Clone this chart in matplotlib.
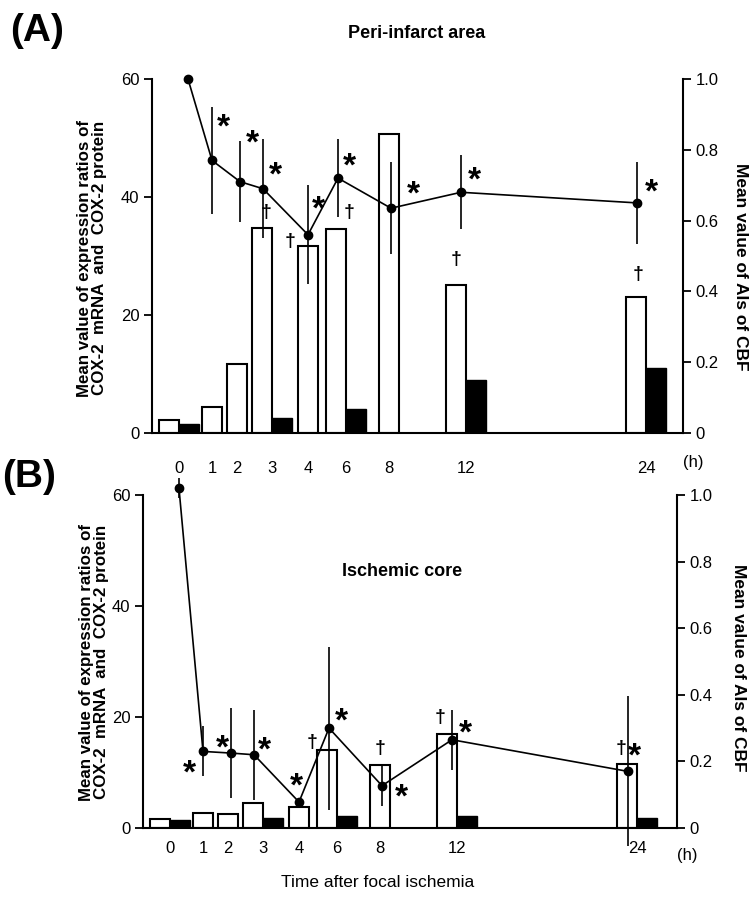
import numpy as np
import matplotlib
matplotlib.use("Agg")
import matplotlib.pyplot as plt

plt.rcParams['font.family'] = ['Liberation Sans', 'DejaVu Sans']

# ---------------- data ----------------
hours = [0, 1, 2, 3, 4, 6, 8, 12, 24]
tick_labels = ['0', '1', '2', '3', '4', '6', '8', '12', '24']
protein_hours = [0, 3, 6, 12, 24]

# Panel A: peri-infarct area
a_mrna = [2.2, 4.4, 11.7, 34.7, 31.7, 34.6, 50.7, 25.0, 23.0]
a_protein = [1.5, 2.5, 4.1, 9.0, 11.0]
a_cbf = [1.0, 0.77, 0.71, 0.69, 0.56, 0.72, 0.635, 0.68, 0.65]
a_cbf_err = [0.0, 0.15, 0.115, 0.14, 0.14, 0.11, 0.13, 0.105, 0.115]
a_cbf_sig = [1, 2, 3, 4, 6, 8, 12, 24]
a_mrna_sig = [3, 4, 6, 12, 24]

# Panel B: ischemic core
b_mrna = [1.6, 2.7, 2.5, 4.5, 3.8, 14.0, 11.3, 17.0, 11.5]
b_protein = [1.4, 1.8, 2.2, 2.2, 1.8]
b_cbf = [1.02, 0.23, 0.225, 0.22, 0.078, 0.30, 0.127, 0.265, 0.17]
b_cbf_err = [0.03, 0.075, 0.135, 0.135, 0.0, 0.245, 0.06, 0.09, 0.225]
b_cbf_sig = [1, 2, 3, 4, 6, 8, 12, 24]
b_mrna_sig = [6, 8, 12, 24]

# ---------------- layout ----------------
W, H = 752, 897
BAR_POS = {0: 27, 1: 60, 2: 85, 3: 120, 4: 156, 6: 194, 8: 237, 12: 314, 24: 494}
LINE_POS = {0: 36, 1: 60, 2: 88, 3: 111, 4: 156, 6: 186, 8: 239, 12: 309, 24: 485}
BW = 20

# asterisk offsets (px) relative to line point
AST_A = {1: (11, 40), 2: (12, 45), 3: (12, 20), 4: (10, 32), 6: (11, 19),
         8: (22, 21), 12: (13, 19), 24: (14, 17)}
AST_B = {1: (-14, -15), 2: (-9, 12), 3: (10, 11), 4: (-3, 22), 6: (12, 14),
         8: (19, -5), 12: (13, 13), 24: (6, 22)}
# dagger offsets (px) relative to white-bar top centre
DAG_A = {3: (4, 16), 4: (-18, 4), 6: (13, 16), 12: (0, 26), 24: (2, 23)}
DAG_B = {6: (-15, 8), 8: (0, 17), 12: (-7, 16), 24: (-6, 16)}

fig = plt.figure(figsize=(W / 100, H / 100), dpi=100)


def px_axes(l, t, r, b):
    return fig.add_axes([l / W, 1 - b / H, (r - l) / W, (b - t) / H])


def ftext(x, y, s, **kw):
    fig.text(x / W, 1 - y / H, s, **kw)


def panel(box, mrna, prot, cbf, cbf_err, cbf_sig, mrna_sig, ast_off, dag_off, xpad):
    l, t, r, b = box
    ax = px_axes(l, t, r, b)
    ax.set_xlim(0, r - l)
    ax.set_ylim(0, 60)
    white_x = [BAR_POS[h] - BW / 2 if h in protein_hours else BAR_POS[h] for h in hours]
    black_x = [BAR_POS[h] + BW / 2 for h in protein_hours]
    ax.bar(white_x, mrna, width=BW, facecolor='white', edgecolor='black',
           linewidth=1.5, zorder=2)
    ax.bar(black_x, prot, width=BW, facecolor='black', edgecolor='black',
           linewidth=1.0, zorder=2)
    ax.set_yticks([0, 20, 40, 60])
    ax.set_xticks([BAR_POS[h] for h in hours], tick_labels)
    ax.tick_params(axis='x', length=0, pad=xpad, labelsize=12)
    ax.tick_params(axis='y', direction='out', length=6, width=1.3, labelsize=12, pad=3)
    for s in ['top', 'right']:
        ax.spines[s].set_visible(False)
    ax.spines['left'].set_linewidth(1.5)
    ax.spines['bottom'].set_linewidth(1.5)

    ax2 = ax.twinx()
    ax2.set_ylim(0, 1.0)
    lx = [LINE_POS[h] for h in hours]
    cont = ax2.errorbar(lx, cbf, yerr=cbf_err, fmt='-o', color='black', ms=6,
                        lw=1.2, elinewidth=1.2, capsize=0, zorder=3)
    for art in cont.get_children():
        art.set_clip_on(False)
    ax2.set_yticks([0, 0.2, 0.4, 0.6, 0.8, 1.0], ['0', '0.2', '0.4', '0.6', '0.8', '1.0'])
    ax2.tick_params(axis='y', direction='out', length=6, width=1.3, labelsize=12, pad=3)
    for s in ['top', 'left', 'bottom']:
        ax2.spines[s].set_visible(False)
    ax2.spines['right'].set_linewidth(1.5)

    # significance marks
    for h, m in zip(hours, cbf):
        if h in cbf_sig:
            dx, dy = ast_off[h]
            ax2.annotate('*', xy=(LINE_POS[h], m), xytext=(dx, dy - 4),
                         textcoords='offset pixels', ha='center', va='center_baseline',
                         fontsize=24, fontweight='bold', annotation_clip=False)
    for h, v, wx in zip(hours, mrna, white_x):
        if h in mrna_sig:
            dx, dy = dag_off[h]
            ax.annotate('\u2020', xy=(wx, v), xytext=(dx, dy),
                        textcoords='offset pixels', ha='center', va='center',
                        fontsize=14, fontweight='bold', annotation_clip=False)
    return ax, ax2


panel((152, 79, 683, 433), a_mrna, a_protein, a_cbf, a_cbf_err, a_cbf_sig,
      a_mrna_sig, AST_A, DAG_A, 20)
panel((143, 495, 677, 828), b_mrna, b_protein, b_cbf, b_cbf_err, b_cbf_sig,
      b_mrna_sig, AST_B, DAG_B, 9)

# titles and labels
ftext(37, 31, '(A)', fontsize=28, fontweight='bold', ha='center', va='center')
ftext(29, 477, '(B)', fontsize=28, fontweight='bold', ha='center', va='center')
ftext(417, 33, 'Peri-infarct area', fontsize=13, fontweight='bold', ha='center', va='center')
ftext(402, 571, 'Ischemic core', fontsize=13, fontweight='bold', ha='center', va='center')

ylab = 'Mean value of expression ratios of\nCOX-2  mRNA  and  COX-2 protein'
ftext(92, 258, ylab, fontsize=12.2, fontweight='bold', rotation=90,
      ha='center', va='center', linespacing=0.95)
ftext(94, 662, ylab, fontsize=12.2, fontweight='bold', rotation=90,
      ha='center', va='center', linespacing=0.95)
ftext(740, 267, 'Mean value of AIs of CBF', fontsize=12.5, fontweight='bold',
      rotation=270, ha='center', va='center')
ftext(739, 668, 'Mean value of AIs of CBF', fontsize=12.5, fontweight='bold',
      rotation=270, ha='center', va='center')
ftext(693, 463, '(h)', fontsize=12, ha='center', va='center')
ftext(687, 855, '(h)', fontsize=12, ha='center', va='center')
ftext(378, 882, 'Time after focal ischemia', fontsize=12.5, ha='center', va='center')

fig.savefig('out.png', dpi=100)
